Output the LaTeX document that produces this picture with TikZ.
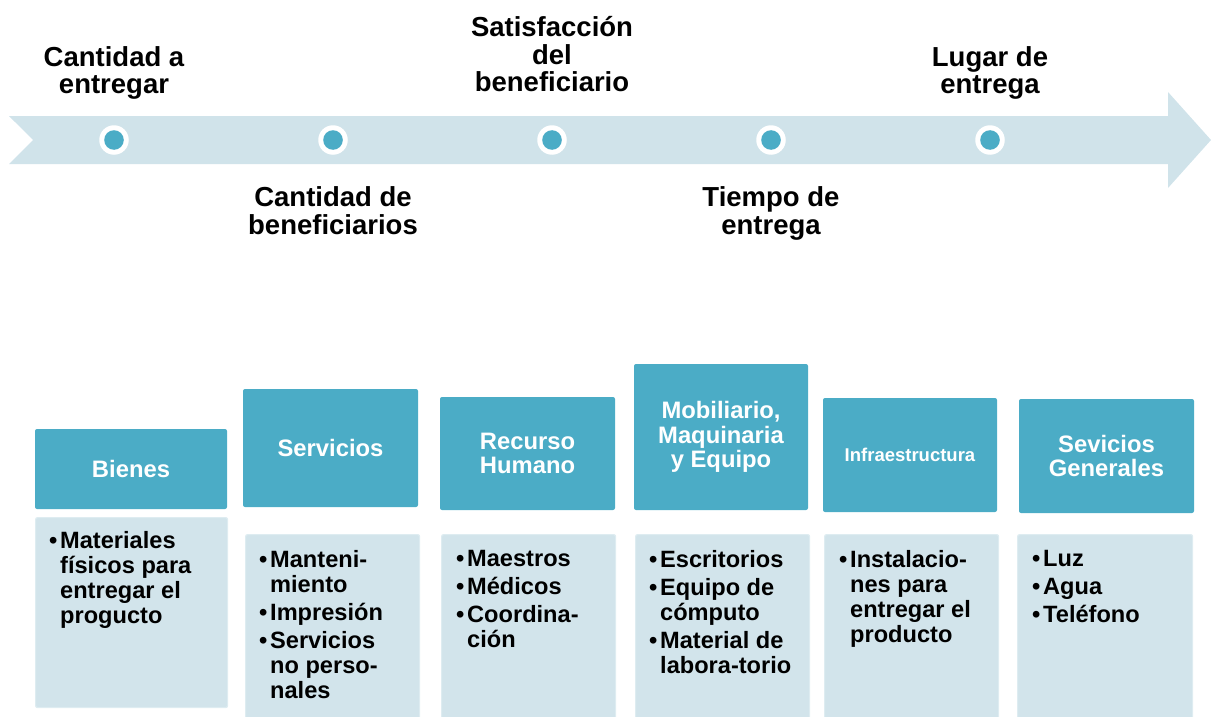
\documentclass[tikz,border=0pt]{standalone}
\usepackage{fontspec}
\setmainfont{Liberation Sans}
\definecolor{hdrcol}{RGB}{75,172,198}
\definecolor{boxcol}{RGB}{210,228,235}
\definecolor{arrowcol}{RGB}{208,227,234}
\definecolor{boxedge}{RGB}{222,236,241}
\newcommand\bul{\makebox[11pt][l]{\textbullet}}
\newcommand\ind{\hspace*{11pt}}
\begin{document}
\begin{tikzpicture}[x=1pt,y=-1pt,
  hdr/.style={fill=hdrcol, rounded corners=2pt, inner sep=0pt, text=white,
    font=\fontsize{23.8}{24.5}\selectfont\bfseries, align=center},
  cbox/.style={fill=boxcol, draw=boxedge, line width=1.2pt, rounded corners=2pt,
    inner sep=0pt, anchor=north west},
  ctext/.style={anchor=north west, inner sep=0pt, align=left,
    font=\fontsize{23.6}{25}\selectfont\bfseries},
  toplab/.style={align=center, inner sep=0pt,
    font=\fontsize{27.5}{27.6}\selectfont\bfseries},
  ring/.style={circle, fill=white, minimum size=29.5pt, inner sep=0pt},
  dot/.style={circle, fill=hdrcol, minimum size=19.6pt, inner sep=0pt}
]
\useasboundingbox (0,0) rectangle (1211,717);
% timeline arrow
\fill[arrowcol] (9,116) -- (1168,116) -- (1168,92) -- (1211,140) -- (1168,188)
  -- (1168,164) -- (9,164) -- (33,140) -- cycle;
% points
\foreach \i/\x in {1/114,2/333,3/552,4/771,5/990}{
  \node[ring] (p\i) at (\x,140) {};
  \node[dot] (q\i) at (p\i) {};
}
% labels
\node[toplab] (l1) at (114,72.9) {Cantidad a\\entregar};
\node[toplab] (l2) at (333,210.7) {Cantidad de\\beneficiarios};
\node[toplab] (l3) at (552,54.3) {Satisfacción\\del\\beneficiario};
\node[toplab] (l4) at (771,213.6) {Tiempo de\\entrega};
\node[toplab] (l5) at (990,72.9) {Lugar de\\entrega};
% headers
\node[hdr, minimum width=192pt, minimum height=80pt] (h1) at (131,469) {Bienes};
\node[hdr, minimum width=175pt, minimum height=118pt] (h2) at (330.5,448) {Servicios};
\node[hdr, minimum width=175pt, minimum height=113pt] (h3) at (527.5,453.5) {Recurso\\Humano};
\node[hdr, minimum width=174pt, minimum height=146pt] (h4) at (721,437) {Mobiliario,\\Maquinaria\\y Equipo};
\node[hdr, minimum width=174pt, minimum height=114pt, font=\fontsize{18.5}{20}\selectfont\bfseries] (h5) at (910,455) {Infraestructura};
\node[hdr, minimum width=175pt, minimum height=114pt] (h6) at (1106.5,456) {Sevicios\\Generales};
% content boxes
\node[cbox, minimum width=192pt, minimum height=190pt] (c1) at (35,517) {};
\node[cbox, minimum width=174pt, minimum height=200pt] (c2) at (245,534) {};
\node[cbox, minimum width=174pt, minimum height=200pt] (c3) at (441,534) {};
\node[cbox, minimum width=174pt, minimum height=200pt] (c4) at (635,534) {};
\node[cbox, minimum width=174pt, minimum height=200pt] (c5) at (824,534) {};
\node[cbox, minimum width=175pt, minimum height=200pt] (c6) at (1017,534) {};
% content texts
\node[ctext] (t1) at (49,531.5) {\bul Materiales\\\ind físicos para\\\ind entregar el\\\ind progucto};
\node[ctext] (t2) at (259,549.8) {\bul Manteni-\\\ind miento\\[3.3pt]\bul Impresión\\[3.3pt]\bul Servicios\\\ind no perso-\\\ind nales};
\node[ctext] (t3) at (456,549.8) {\bul Maestros\\[3.3pt]\bul Médicos\\[3.3pt]\bul Coordina-\\\ind ción};
\node[ctext] (t4) at (649,549.8) {\bul Escritorios\\[3.3pt]\bul Equipo de\\\ind cómputo\\[3.3pt]\bul Material de\\\ind labora-torio};
\node[ctext] (t5) at (839,549.8) {\bul Instalacio-\\\ind nes para\\\ind entregar el\\\ind producto};
\node[ctext] (t6) at (1032,549.8) {\bul Luz\\[3.3pt]\bul Agua\\[3.3pt]\bul Teléfono};
\end{tikzpicture}
\end{document}
